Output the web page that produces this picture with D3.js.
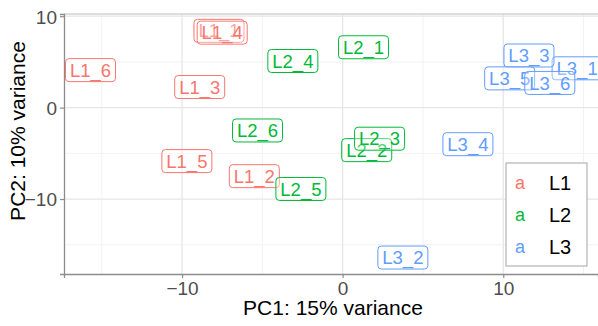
<!DOCTYPE html>
<html>
<head>
<meta charset="utf-8">
<script src="https://cdn.jsdelivr.net/npm/d3@7"></script>
<style>
    body { margin: 0; background: #fff; }
    svg  { font-family: 'Liberation Sans', Arial, Helvetica, sans-serif; display: block; }
</style>
</head>
<body>
<svg id="chart" width="598" height="326"></svg>
<script>
// samples, in drawing order
const samples = ['L1_1', 'L1_2', 'L1_3', 'L1_4', 'L1_5', 'L1_6',
                 'L2_1', 'L2_2', 'L2_3', 'L2_4', 'L2_5', 'L2_6',
                 'L3_1', 'L3_2', 'L3_3', 'L3_4', 'L3_5', 'L3_6']
const groups  = samples.map(s => s.slice(0, 2))
const pc1     = [-7.7, -5.5, -8.9, -7.5, -9.7, -15.7,
                  1.3,  1.5,  2.3, -3.1, -2.6, -5.3,
                 14.6,  3.75, 11.6, 7.8, 10.4, 12.9]
const pc2     = [ 8.4, -7.5,  2.25, 8.2, -5.85, 4.1,
                  6.6, -4.65, -3.4, 5.1, -8.9, -2.5,
                  4.3, -16.4,  5.7, -4.0,  3.2,  2.7]
const levels  = ['L1', 'L2', 'L3']
const colours = ['#F8766D', '#00BA38', '#619CFF']
const xTicks  = [-10, 0, 10]
const yTicks  = [-10, 0, 10]
const xMinor  = [-15, -5, 5, 15]
const yMinor  = [-15, -5, 5]

const svg    = d3.select('#chart')
const margin = { top: 14, right: 0, bottom: 52, left: 64 }
const width  = 598 - margin.left - margin.right
const height = 326 - margin.top - margin.bottom

const x = d3.scaleLinear().domain([-17.35, 15.9]).range([0, width])
const y = d3.scaleLinear().domain([-18.2, 10.24]).range([height, 0])
const colour = d3.scaleOrdinal().domain(levels).range(colours)

const g = svg.append('g').attr('transform', `translate(${margin.left},${margin.top})`)

// grid
g.selectAll('.minor-x').data(xMinor).enter().append('line')
    .attr('x1', d => x(d)).attr('x2', d => x(d))
    .attr('y1', 0).attr('y2', height)
    .attr('stroke', '#f2f2f2').attr('stroke-width', 1)
g.selectAll('.minor-y').data(yMinor).enter().append('line')
    .attr('y1', d => y(d)).attr('y2', d => y(d))
    .attr('x1', 0).attr('x2', width)
    .attr('stroke', '#f2f2f2').attr('stroke-width', 1)
g.selectAll('.major-x').data(xTicks).enter().append('line')
    .attr('x1', d => x(d)).attr('x2', d => x(d))
    .attr('y1', 0).attr('y2', height)
    .attr('stroke', '#e6e6e6').attr('stroke-width', 1.3)
g.selectAll('.major-y').data(yTicks).enter().append('line')
    .attr('y1', d => y(d)).attr('y2', d => y(d))
    .attr('x1', 0).attr('x2', width)
    .attr('stroke', '#e6e6e6').attr('stroke-width', 1.3)

// top border
g.append('line')
    .attr('x1', 0).attr('x2', width).attr('y1', 0).attr('y2', 0)
    .attr('stroke', '#bdbdbd').attr('stroke-width', 1.2)

// axes
const xAxis = g.append('g')
    .attr('transform', `translate(0,${height})`)
    .call(d3.axisBottom(x).tickValues(xTicks).tickSize(4).tickPadding(4).tickFormat(d3.format('d')))
const yAxis = g.append('g')
    .call(d3.axisLeft(y).tickValues(yTicks).tickSize(4).tickPadding(3).tickFormat(d3.format('d')))

;[xAxis, yAxis].forEach(a => {
    a.select('.domain').attr('stroke', '#8c8c8c').attr('stroke-width', 1.3)
    a.selectAll('.tick line').attr('stroke', '#8c8c8c').attr('stroke-width', 1.2)
    a.selectAll('.tick text')
        .attr('fill', '#4d4d4d')
        .style('font-size', '19px')
        .style('font-family', "'Liberation Sans', Arial, sans-serif")
})
yAxis.selectAll('.tick text').attr('dy', '0.36em')

// labels
const labels = g.selectAll('.label')
    .data(samples.map((s, i) => ({ name: s, group: groups[i], x: pc1[i], y: pc2[i] })))
    .enter().append('g')
    .attr('class', 'label')
    .attr('transform', d => `translate(${x(d.x)},${y(d.y)})`)

labels.each(function (d) {
    const el = d3.select(this)
    el.append('rect')
        .attr('x', -25).attr('y', -11.5)
        .attr('width', 50).attr('height', 23)
        .attr('rx', 3.5)
        .attr('fill', '#fff').attr('fill-opacity', 0.35)
        .attr('stroke', colour(d.group)).attr('stroke-width', 1)
    el.append('text')
        .attr('text-anchor', 'middle')
        .attr('dy', '0.36em')
        .attr('fill', colour(d.group))
        .style('font-size', '18.5px')
        .text(d.name)
})

// legend
const legend = svg.append('g').attr('transform', 'translate(506,163)')
legend.append('rect')
    .attr('width', 81).attr('height', 103)
    .attr('fill', '#fff')
    .attr('stroke', '#b3b3b3').attr('stroke-width', 1.2)

const items = legend.selectAll('.item').data(levels).enter().append('g')
    .attr('transform', (d, i) => `translate(0,${20 + i * 32})`)
items.append('text')
    .attr('x', 14).attr('dy', '0.36em')
    .attr('text-anchor', 'middle')
    .attr('fill', d => colour(d))
    .style('font-size', '18px')
    .text('a')
items.append('text')
    .attr('x', 43).attr('dy', '0.36em')
    .attr('fill', '#000')
    .style('font-size', '20px')
    .text(d => d)

// axis titles
svg.append('text')
    .attr('x', 333)
    .attr('y', 315)
    .attr('text-anchor', 'middle')
    .style('font-size', '21px')
    .text('PC1: 15% variance')

svg.append('text')
    .attr('transform', 'translate(25,131) rotate(-90)')
    .attr('text-anchor', 'middle')
    .style('font-size', '21px')
    .text('PC2: 10% variance')
</script>
</body>
</html>
